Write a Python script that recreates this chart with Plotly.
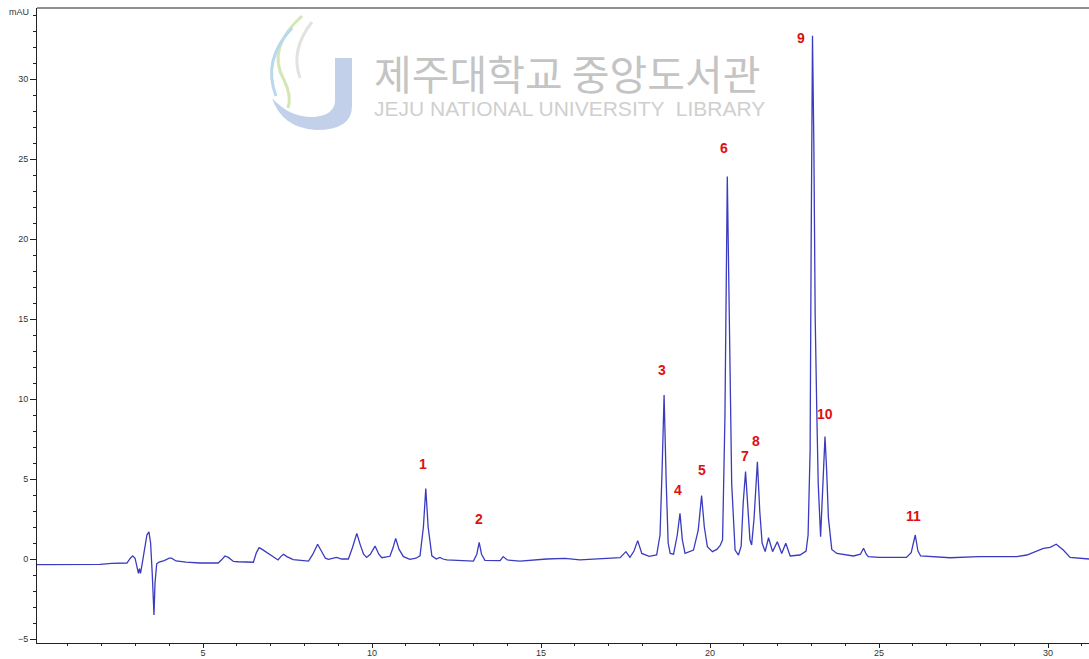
import plotly.graph_objects as go

# Retention time (min) and absorbance (mAU)
time_min = [
    0.09, 1.0, 1.95, 2.3, 2.75, 2.85, 2.92, 2.99, 3.05, 3.09, 3.12, 3.15, 3.20, 3.27, 3.34, 3.40,
    3.45, 3.50, 3.55, 3.58, 3.63, 3.70, 3.85, 4.00, 4.07, 4.20, 4.5, 4.9, 5.45, 5.55, 5.65, 5.75,
    5.9, 6.04, 6.49, 6.58, 6.66, 6.75, 6.88, 7.05, 7.22, 7.30, 7.38, 7.48, 7.67, 8.12, 8.25, 8.39,
    8.5, 8.62, 8.71, 8.85, 8.95, 9.1, 9.30, 9.42, 9.55, 9.65, 9.75, 9.84, 9.95, 10.09, 10.2, 10.29,
    10.53, 10.62, 10.70, 10.8, 10.93, 11.12, 11.30, 11.42, 11.52, 11.59, 11.66, 11.77, 11.9, 12.01,
    12.1, 12.21, 13.0, 13.10, 13.17, 13.24, 13.34, 13.79, 13.88, 14.0, 14.38, 15.17, 15.71, 16.15,
    16.65, 17.34, 17.51, 17.63, 17.75, 17.86, 17.98, 18.2, 18.42, 18.52, 18.58, 18.64, 18.70, 18.76,
    18.82, 18.92, 19.03, 19.11, 19.18, 19.26, 19.51, 19.65, 19.75, 19.83, 19.92, 20.07, 20.20, 20.30,
    20.37, 20.44, 20.51, 20.59, 20.64, 20.74, 20.84, 20.92, 20.98, 21.05, 21.12, 21.18, 21.23, 21.30,
    21.40, 21.47, 21.54, 21.63, 21.73, 21.85, 21.99, 22.12, 22.24, 22.37, 22.66, 22.84, 22.90, 22.96,
    22.99, 23.03, 23.07, 23.11, 23.16, 23.20, 23.27, 23.34, 23.40, 23.45, 23.50, 23.60, 23.75, 24.24,
    24.45, 24.54, 24.62, 24.68, 25.0, 25.81, 25.95, 26.07, 26.15, 26.23, 27.1, 27.94, 29.07, 29.37,
    29.6, 29.86, 30.06, 30.24, 30.45, 30.65, 31.21,
]
absorbance_mau = [
    -0.35, -0.35, -0.33, -0.27, -0.25, 0.05, 0.2, 0.05, -0.6, -0.9, -0.6, -0.9, -0.3, 0.6, 1.5, 1.7,
    1.0, -1.0, -3.5, -1.5, -0.3, -0.2, -0.1, 0.05, 0.05, -0.12, -0.2, -0.25, -0.25, -0.05, 0.19, 0.1,
    -0.15, -0.17, -0.2, 0.4, 0.71, 0.6, 0.42, 0.15, -0.06, 0.15, 0.3, 0.15, -0.04, -0.13, 0.3, 0.92,
    0.5, 0.05, -0.02, 0.05, 0.1, 0.0, 0.0, 0.7, 1.6, 0.9, 0.3, 0.1, 0.3, 0.81, 0.3, 0.08,
    0.17, 0.7, 1.29, 0.6, 0.15, -0.02, 0.05, 0.2, 2.0, 4.4, 2.0, 0.2, 0.0, 0.1,
    0.0, -0.06, -0.13, 0.3, 1.04, 0.3, -0.08, -0.1, 0.15, -0.06, -0.13, 0.0, 0.04, -0.05,
    0.0, 0.08, 0.46, 0.1, 0.5, 1.15, 0.35, 0.17, 0.25, 1.5, 5.5, 10.25, 5.0, 1.0,
    0.35, 0.3, 1.5, 2.85, 1.2, 0.35, 0.56, 1.8, 3.96, 2.0, 0.77, 0.46, 0.6, 0.85,
    1.2, 8.9, 23.9, 11.0, 4.7, 0.56, 0.25, 0.8, 3.5, 5.46, 3.0, 1.2, 0.88, 2.5,
    6.08, 3.0, 1.0, 0.46, 1.33, 0.46, 1.08, 0.35, 0.98, 0.19, 0.25, 0.5, 1.5, 6.8,
    19.3, 32.7, 26.0, 15.1, 8.9, 4.7, 1.4, 5.0, 7.65, 5.5, 2.6, 0.6, 0.35, 0.19,
    0.3, 0.67, 0.3, 0.15, 0.1, 0.1, 0.4, 1.5, 0.5, 0.19, 0.08, 0.15, 0.15, 0.25,
    0.45, 0.67, 0.73, 0.92, 0.56, 0.1, 0.0,
]

# Peak numbers and where their labels sit (data coordinates)
peak_labels = ["1", "2", "3", "4", "5", "6", "7", "8", "9", "10", "11"]
label_time = [11.51, 13.17, 18.58, 19.05, 19.76, 20.41, 21.04, 21.36, 22.69, 23.40, 26.01]
label_mau = [5.94, 2.5, 11.81, 4.31, 5.56, 25.69, 6.44, 7.38, 32.56, 9.06, 2.69]

x_ticks = [5, 10, 15, 20, 25, 30]
y_ticks = [-5, 0, 5, 10, 15, 20, 25, 30]

W, H = 1089, 659
ML, MR, MT, MB = 37, 0, 8, 16
PW, PH = W - ML - MR, H - MT - MB


def px(xp):
    return (xp - ML) / PW


def py(yp):
    return (H - MB - yp) / PH


def path(cmds):
    out = []
    for c in cmds:
        if isinstance(c, str):
            out.append(c)
        else:
            out.append(f"{px(c[0]):.5f},{py(c[1]):.5f}")
    return " ".join(out)


fig = go.Figure()
fig.add_trace(go.Scatter(
    x=time_min, y=absorbance_mau, mode="lines",
    line=dict(color="#3b3bbf", width=1.3),
    hoverinfo="skip", showlegend=False,
))

annotations = []
for lab, xt, yt in zip(peak_labels, label_time, label_mau):
    annotations.append(dict(
        x=xt, y=yt, xref="x", yref="y", text=f"<b>{lab}</b>", showarrow=False,
        xanchor="center", yanchor="middle",
        font=dict(family="Arial, Liberation Sans, sans-serif", size=14, color="#e01010"),
    ))

# watermark (library stamp)
annotations.append(dict(
    x=px(567), y=py(72), xref="paper", yref="paper", text="제주대학교 중앙도서관",
    xanchor="center", yanchor="middle",
    showarrow=False, font=dict(family="Noto Sans CJK KR", size=41, color="#c4c4c4"),
))
annotations.append(dict(
    x=px(569), y=py(108), xref="paper", yref="paper", text="JEJU NATIONAL UNIVERSITY  LIBRARY",
    xanchor="center", yanchor="middle",
    showarrow=False, font=dict(family="Liberation Sans, Arial", size=21, color="#cfcfcf"),
))
annotations.append(dict(
    x=px(19), y=py(12), xref="paper", yref="paper", text="mAU", showarrow=False,
    xanchor="center", yanchor="middle",
    font=dict(family="Arial, Liberation Sans", size=9, color="#333333"),
))

shapes = [
    dict(type="line", xref="paper", yref="paper", x0=0, x1=1, y0=1, y1=1,
         line=dict(color="#222222", width=1)),
    dict(type="path", xref="paper", yref="paper", layer="below",
         path=path(["M", (335, 58), "L", (352, 58), "L", (352, 106), "Q", (352, 130), (316, 130),
                    "Q", (282, 128), (272, 98), "Q", (290, 118), (314, 117), "Q", (335, 115), (335, 100), "Z"]),
         fillcolor="#c2d0ea", line=dict(width=0)),
    dict(type="path", xref="paper", yref="paper", layer="below",
         path=path(["M", (302, 16), "Q", (266, 48), (284, 80), "Q", (292, 96), (288, 108)]),
         line=dict(color="#d3e6b6", width=3)),
    dict(type="path", xref="paper", yref="paper", layer="below",
         path=path(["M", (292, 28), "Q", (262, 60), (276, 96)]),
         line=dict(color="#b8d8ee", width=3)),
    dict(type="path", xref="paper", yref="paper", layer="below",
         path=path(["M", (312, 22), "Q", (290, 50), (300, 78)]),
         line=dict(color="#e2e2e2", width=3)),
]

axis_font = dict(family="Arial, Liberation Sans", size=9, color="#333333")
fig.update_layout(
    width=W, height=H,
    margin=dict(l=ML, r=MR, t=MT, b=MB, autoexpand=False),
    paper_bgcolor="white", plot_bgcolor="white",
    annotations=annotations, shapes=shapes,
    xaxis=dict(range=[0.089, 31.21], tickvals=x_ticks, ticks="outside", ticklen=4,
               tickcolor="#222222", showline=True, linecolor="#222222", linewidth=1,
               showgrid=False, zeroline=False, tickfont=axis_font, automargin=False,
               ticklabelstandoff=-3,
               minor=dict(dtick=1, ticks="outside", ticklen=2, tickcolor="#222222", showgrid=False)),
    yaxis=dict(range=[-5.25, 34.44], tickvals=y_ticks, ticks="outside", ticklen=6,
               tickcolor="#222222", showline=True, linecolor="#222222", linewidth=1,
               showgrid=False, zeroline=False, tickfont=axis_font, automargin=False,
               minor=dict(dtick=1, ticks="outside", ticklen=3, tickcolor="#222222", showgrid=False)),
)

fig.write_html(
    "out.html",
    config={"displayModeBar": False, "staticPlot": True},
    post_script="document.body.style.margin='0';document.body.style.overflow='hidden';",
)
